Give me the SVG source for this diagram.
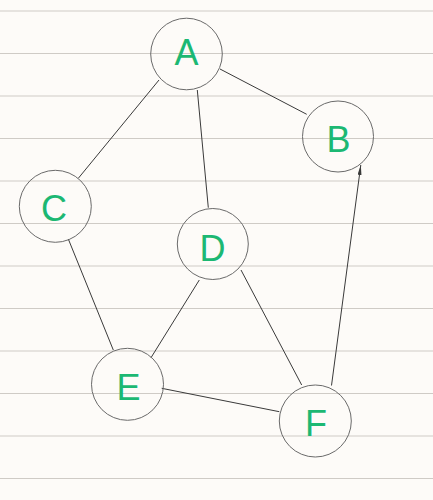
<svg xmlns="http://www.w3.org/2000/svg" width="433" height="500" viewBox="0 0 433 500">
<defs>
<style>
.bg{fill:#fdfbf8}
.rule{stroke:#cfcbc6;stroke-width:1.2}
.node circle{fill:none;stroke:#6a6a6a;stroke-width:1}
.node text{font-family:"Liberation Sans",Arial,sans-serif;font-size:36px;fill:#1cb873;text-anchor:middle}
.edge{stroke:#3a3a3a;stroke-width:1;fill:none}
</style>
<marker id="arr" viewBox="0 0 10 4" refX="10" refY="2" markerWidth="10" markerHeight="4" markerUnits="userSpaceOnUse" orient="auto">
<path d="M0,0 L10,2 L0,4 Z" fill="#3a3a3a"/>
</marker>
</defs>
<rect class="bg" x="0" y="0" width="433" height="500"/>
<g id="rules">
<line class="rule" x1="0" y1="11" x2="433" y2="11"/>
<line class="rule" x1="0" y1="53.5" x2="433" y2="53.5"/>
<line class="rule" x1="0" y1="96" x2="433" y2="96"/>
<line class="rule" x1="0" y1="138.5" x2="433" y2="138.5"/>
<line class="rule" x1="0" y1="181" x2="433" y2="181"/>
<line class="rule" x1="0" y1="223.5" x2="433" y2="223.5"/>
<line class="rule" x1="0" y1="266" x2="433" y2="266"/>
<line class="rule" x1="0" y1="308.5" x2="433" y2="308.5"/>
<line class="rule" x1="0" y1="351" x2="433" y2="351"/>
<line class="rule" x1="0" y1="393.5" x2="433" y2="393.5"/>
<line class="rule" x1="0" y1="436" x2="433" y2="436"/>
<line class="rule" x1="0" y1="478.5" x2="433" y2="478.5"/>
</g>
<g id="connectors">
<line class="edge" x1="220" y1="69" x2="306.7" y2="114.3"/>
<line class="edge" x1="159" y1="80" x2="78.3" y2="178.3"/>
<line class="edge" x1="197.3" y1="90" x2="208.3" y2="207.7"/>
<line class="edge" x1="68.3" y1="239" x2="113.3" y2="350"/>
<line class="edge" x1="199.3" y1="280" x2="151" y2="357.7"/>
<line class="edge" x1="241" y1="270" x2="301.7" y2="385"/>
<line class="edge" x1="161.7" y1="388.3" x2="279.3" y2="411.7"/>
<line class="edge" x1="331.5" y1="385.5" x2="360.8" y2="165" marker-end="url(#arr)"/>
</g>
<g id="A" class="node"><circle cx="186.5" cy="54" r="35.8"/><text x="186.5" y="65">A</text></g>
<g id="B" class="node"><circle cx="338" cy="136.5" r="35.5"/><text x="338.5" y="151.5">B</text></g>
<g id="C" class="node"><circle cx="55.3" cy="206.3" r="36"/><text x="54" y="221">C</text></g>
<g id="D" class="node"><circle cx="212.8" cy="244" r="35.5"/><text x="212.5" y="260.5">D</text></g>
<g id="E" class="node"><circle cx="127.5" cy="384.3" r="36"/><text x="128.5" y="400">E</text></g>
<g id="F" class="node"><circle cx="315.3" cy="421" r="36"/><text x="316" y="436">F</text></g>
</svg>
